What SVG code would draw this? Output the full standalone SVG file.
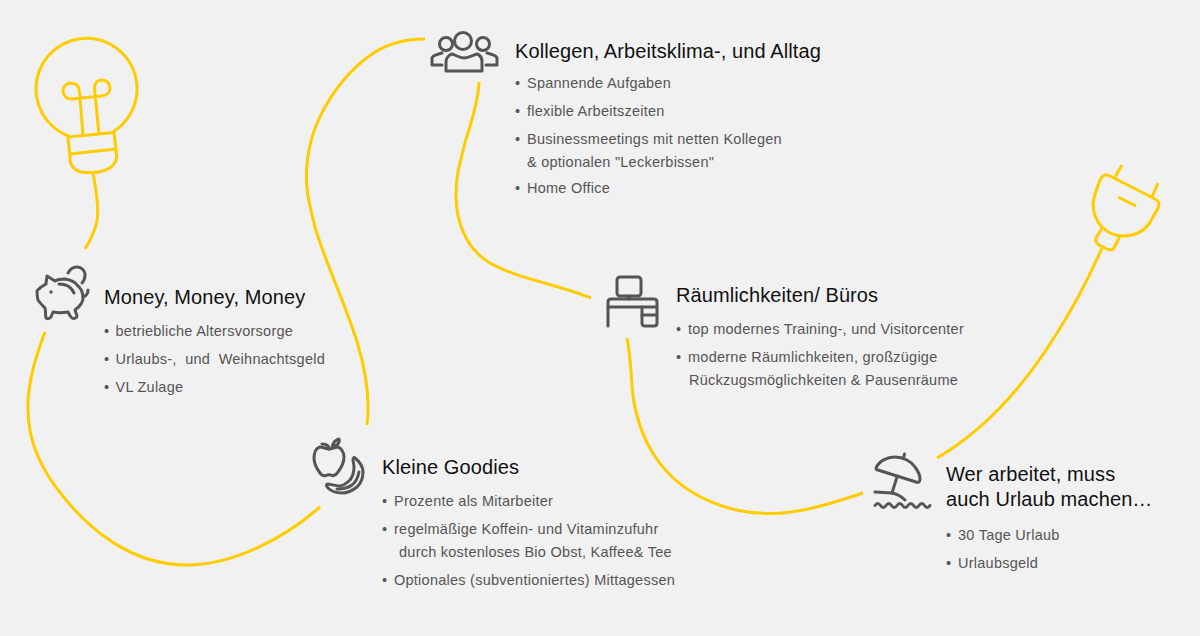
<svg xmlns="http://www.w3.org/2000/svg" width="1200" height="636" viewBox="0 0 1200 636">
<style>
.c{fill:none;stroke:#ffcc00;stroke-width:3;stroke-linecap:butt;stroke-linejoin:round}
.i{fill:none;stroke:#555;stroke-width:3;stroke-linecap:round;stroke-linejoin:round}
text{font-family:"Liberation Sans",Arial,sans-serif}
.t{font-size:20px;fill:#111;letter-spacing:.1px}
.b{font-size:14.500px;fill:#555;letter-spacing:.25px}
</style>
<rect width="1200" height="636" fill="#f1f1f1"/>
<g id="connectors">
<path class="c" d="M92.700 172C97 193 99 208 97 221C95 231 91 239 85 249"/>
<path class="c" d="M45 332C35 358 27 385 28 410C28 440 40 468 62 495C88 528 130 565 187 565C232 565 282 540 320 507"/>
<path class="c" d="M367 425C370 400 366 372 358 345C346 305 325 262 315 227C308 200 305 185 307 165C310 120 340 75 375 52C390 43 408 39 425 39"/>
<path class="c" d="M479 82C478 105 470 125 465 143C460 163 456 175 456 195C456 225 468 250 490 263C515 278 560 285 591 298"/>
<path class="c" d="M627 338C631 358 631 378 633 396C637 424 645 441 654 455C670 480 695 497 722 506C740 512 755 513.500 771 513.500C800 513.500 833 503 863 493"/>
<path class="c" d="M937 458C985 430 1025 385 1057 333C1075 305 1090 275 1102 248"/>
</g>
<g id="bulb">
<path class="c" d="M68.500 136A50.500 50.500 0 1 1 111 133"/>
<path class="c" d="M68 137L114 132.500L116.500 154C118 166 106 172 93 172.500L86 172.500C76 172.500 70 167 70 158Z"/>
<path class="c" d="M70.500 154L116 149"/>
<path class="c" d="M83 135L79.500 92C79 85 75 83 71 83C66 83 63 87 63 91C63 96 67 99 71 99L102 96C107 95.500 110 92 110 88C110 83 106 80 102 80C97 80 94 84 94.500 89L99 134"/>
</g>
<g id="money">
<path class="i" d="M68 273C70 269 73 267 77 267C82 267 85 271 85 275C85 279 84 281 82 283"/>
<path class="i" d="M47 276L55 281C58 279 61 279 65 279C71 280 75 282 77 285C81 288 83 293 83 298C83 303 79 307 75 310L77 316C77 318 74 319 72 318C70 317 69 314 68 312C63 313 58 313 53 312L51 317C49 319 47 319 46 318C45 314 46 311 45 308C43 306 40 303 38 300C37 297 37 294 37 291C39 288 43 286 46 284C46 281 47 278 47 276Z"/>
<path class="i" d="M59 284C63 284 66 285 68 286C71 288 73 290 74 293"/>
<path class="i" d="M83 297C86 296 88 293 88 290"/>
<circle cx="51" cy="292" r="1.700" fill="#555"/>
<text class="t" x="104" y="304">Money, Money, Money</text>
<text class="b" y="336"><tspan x="104">•</tspan><tspan x="115.500">betriebliche Altersvorsorge</tspan></text>
<text class="b" y="364" xml:space="preserve"><tspan x="104">•</tspan><tspan x="115.500">Urlaubs-,  und  Weihnachtsgeld</tspan></text>
<text class="b" y="392"><tspan x="104">•</tspan><tspan x="115.500">VL Zulage</tspan></text>
</g>
<g id="kollegen">
<circle class="i" cx="463" cy="41" r="8.500"/>
<circle class="i" cx="446" cy="44" r="6.500"/>
<circle class="i" cx="483" cy="44" r="6.500"/>
<path class="i" d="M446 71V62C446 58 449 55 452 54C456 55 459 58 464 58C469 58 473 55 477 54C480 55 482 58 482 62V71Z"/>
<path class="i" d="M442 65H432V58C433 55 438 54 442 53"/>
<path class="i" d="M486 65H497V58C496 55 491 54 487 53"/>
<text class="t" x="515" y="58">Kollegen, Arbeitsklima-, und Alltag</text>
<text class="b" y="88"><tspan x="515">•</tspan><tspan x="527">Spannende Aufgaben</tspan></text>
<text class="b" y="116"><tspan x="515">•</tspan><tspan x="527">flexible Arbeitszeiten</tspan></text>
<text class="b" y="144"><tspan x="515">•</tspan><tspan x="527">Businessmeetings mit netten Kollegen</tspan></text>
<text class="b" x="527" y="167">&amp; optionalen "Leckerbissen"</text>
<text class="b" y="193"><tspan x="515">•</tspan><tspan x="527">Home Office</tspan></text>
</g>
<g id="raeume">
<rect class="i" x="617" y="277" width="24" height="19" rx="3"/>
<path class="i" d="M629 296V299"/>
<path class="i" d="M608 326V302C608 300 609 299 611 299H654C656 299 657 300 657 302V323C657 325 656 326 654 326H645C643 326 642 325 642 323V307"/>
<path class="i" d="M608 307H657M642 315H657"/>
<text class="t" x="676" y="302">Räumlichkeiten/ Büros</text>
<text class="b" y="334"><tspan x="676">•</tspan><tspan x="688">top modernes Training-, und Visitorcenter</tspan></text>
<text class="b" y="362"><tspan x="676">•</tspan><tspan x="688">moderne Räumlichkeiten, großzügige</tspan></text>
<text class="b" x="689" y="385">Rückzugsmöglichkeiten &amp; Pausenräume</text>
</g>
<g id="goodies">
<path class="i" d="M329 449C326 449 323 447 320 447C316 448 314 453 314 458C314 464 317 469 320 473C322 476 324 476 326 475.500C328 474.500 330 474.500 332 475.500C334 476 336 475 338 472C341 468 344 463 344 457C344 452 341 448 338 447C335 447 332 449 329 449Z"/>
<path class="i" d="M329 449C329 446 327 444 322 444"/>
<path class="i" d="M332 447C333 443 335 440 339 439C340 443 337 446 332 447Z"/>
<path class="i" d="M355 458C360 462 363 467 363 472C363 479 360 484 357 487C352 491 347 493 342 493C336 493 331 491 328 488C326 486 326 484 328 484C333 485 337 486 340 486C345 485 348 482 350 480C353 476 354 471 354 467C354 464 353 462 353 460C353 458 354 457 355 458Z"/>
<path class="i" d="M359 472C358 477 356 482 352 485C348 488 343 489 337 489"/>
<text class="t" x="382" y="474">Kleine Goodies</text>
<text class="b" y="506"><tspan x="382">•</tspan><tspan x="394">Prozente als Mitarbeiter</tspan></text>
<text class="b" y="534"><tspan x="382">•</tspan><tspan x="394">regelmäßige Koffein- und Vitaminzufuhr</tspan></text>
<text class="b" x="399" y="557">durch kostenloses Bio Obst, Kaffee&amp; Tee</text>
<text class="b" y="585"><tspan x="382">•</tspan><tspan x="394">Optionales (subventioniertes) Mittagessen</tspan></text>
</g>
<g id="urlaub">
<path class="i" d="M876 468C879 461 887 457 895 457C903 457 911 461 915 467C918 471 920 475 920 479C920 482 918 483 916 482L878 470C876 470 876 469 876 468Z"/>
<path class="i" d="M903.500 458L904.500 454M897 477L892 493"/>
<path class="i" d="M875 492L892 493C897 494 902 497 905 500"/>
<path class="i" d="M875 505.500q2.750 -4 5.500 0t5.500 0 5.500 0 5.500 0 5.500 0 5.500 0 5.500 0 5.500 0 5.500 0 5.500 0"/>
<text class="t" x="946" y="481">Wer arbeitet, muss</text>
<text class="t" x="946" y="506">auch Urlaub machen…</text>
<text class="b" y="540"><tspan x="946">•</tspan><tspan x="958">30 Tage Urlaub</tspan></text>
<text class="b" y="568"><tspan x="946">•</tspan><tspan x="958">Urlaubsgeld</tspan></text>
</g>
<g id="plug">
<path class="c" d="M1115 177L1122 165M1152 197L1158 183"/>
<path class="c" d="M1100 180C1102 175 1106 174 1110 176L1155 199C1159 201 1160 204 1158 208L1149 224C1142 233 1132 236 1123 236C1115 236 1107 232 1102 227C1095 220 1093 211 1093 203C1094 196 1097 188 1100 180Z"/>
<path class="c" d="M1102 228L1096 238C1095 241 1096 243 1099 245L1108 249.500C1111 250.500 1113 250 1114 248L1120 236"/>
<path class="c" d="M1118 197L1136 206"/>
</g>
</svg>
